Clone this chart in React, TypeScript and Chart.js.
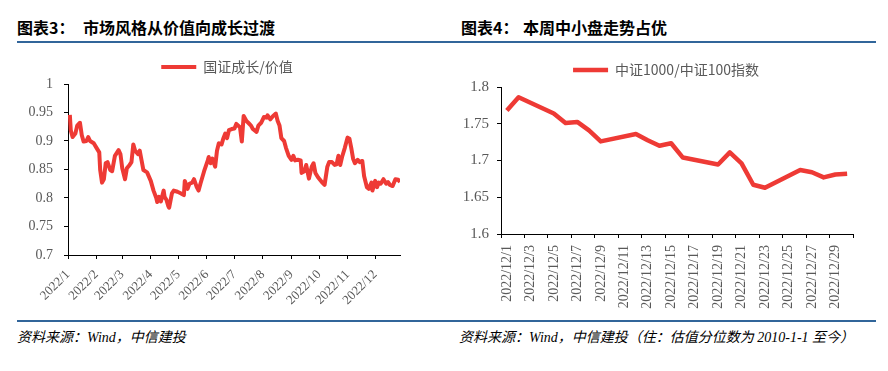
import React, { useEffect, useRef } from 'react';
import { Chart, registerables } from 'chart.js';

Chart.register(...registerables);

// ---------- Left chart: 国证成长/价值 (2022) ----------
const monthStartDays = [0, 31, 59, 90, 120, 151, 181, 212, 243, 273, 304, 334];
const monthLabels = ['2022/1', '2022/2', '2022/3', '2022/4', '2022/5', '2022/6', '2022/7', '2022/8', '2022/9', '2022/10', '2022/11', '2022/12'];
// day offset from 2022-01-01
const growthDays = [
  2, 3, 5, 8, 10, 13, 15, 17, 20, 22, 24, 28, 31, 34, 35, 37, 39, 41, 43, 46, 48, 51, 55, 57, 59, 62, 64, 67, 69, 71,
  73, 76, 78, 80, 82, 86, 90, 93, 96, 97, 99, 101, 104, 105, 107, 109, 110, 113, 115, 119, 123, 126, 127, 130, 132, 135, 137, 140, 142, 144,
  148, 152, 153, 155, 157, 160, 162, 164, 167, 169, 171, 173, 175, 178, 181, 183, 187, 189, 191, 194, 196, 199, 201, 205, 207, 210, 213, 216, 217, 220,
  223, 226, 228, 230, 232, 235, 237, 240, 243, 245, 247, 250, 253, 254, 257, 259, 262, 265, 267, 269, 272, 276, 279, 282, 284, 287, 290, 292, 294, 296,
  298, 301, 304, 306, 308, 310, 312, 315, 317, 320, 322, 325, 327, 330, 331, 334, 336, 338, 340, 343, 346, 348, 350, 353, 356, 359, 361,
];
const growthValues = [
  0.946, 0.919, 0.907, 0.913, 0.927, 0.932, 0.910, 0.899, 0.900, 0.907, 0.900, 0.896, 0.888, 0.880, 0.849, 0.827, 0.833, 0.861, 0.863, 0.849, 0.847, 0.874, 0.884, 0.877, 0.852, 0.833, 0.852, 0.858, 0.863, 0.894,
  0.883, 0.877, 0.883, 0.866, 0.849, 0.845, 0.830, 0.813, 0.800, 0.793, 0.802, 0.794, 0.813, 0.802, 0.797, 0.786, 0.783, 0.808, 0.813, 0.811, 0.808, 0.805, 0.830, 0.816, 0.825, 0.827, 0.833, 0.819, 0.813, 0.825,
  0.847, 0.866, 0.872, 0.861, 0.869, 0.855, 0.883, 0.896, 0.894, 0.905, 0.913, 0.905, 0.919, 0.921, 0.922, 0.930, 0.924, 0.899, 0.944, 0.935, 0.932, 0.927, 0.921, 0.916, 0.927, 0.932, 0.942, 0.941, 0.945, 0.938,
  0.944, 0.948, 0.935, 0.927, 0.905, 0.900, 0.888, 0.874, 0.867, 0.874, 0.866, 0.867, 0.866, 0.844, 0.847, 0.858, 0.834, 0.855, 0.861, 0.844, 0.836, 0.828, 0.823, 0.855, 0.863, 0.863, 0.858, 0.859, 0.874, 0.858,
  0.872, 0.888, 0.906, 0.904, 0.888, 0.869, 0.861, 0.867, 0.863, 0.865, 0.838, 0.819, 0.816, 0.827, 0.813, 0.830, 0.819, 0.827, 0.825, 0.833, 0.825, 0.828, 0.823, 0.821, 0.833, 0.832, 0.828,
];
const growthYTicks = [0.7, 0.75, 0.8, 0.85, 0.9, 0.95, 1];

// ---------- Right chart: 中证1000/中证100指数 (Dec 2022) ----------
const ratioDays = [1, 2, 5, 6, 7, 8, 9, 12, 13, 14, 15, 16, 19, 20, 21, 22, 23, 26, 27, 28, 29, 30];
const ratioValues = [1.768, 1.786, 1.764, 1.751, 1.7525, 1.741, 1.726, 1.736, 1.7275, 1.72, 1.7235, 1.704, 1.6946, 1.711, 1.696, 1.667, 1.663, 1.687, 1.684, 1.677, 1.681, 1.682];
const ratioTickDays = [1, 3, 5, 7, 9, 11, 13, 15, 17, 19, 21, 23, 25, 27, 29, 31];
const ratioTickLabels = ['2022/12/1', '2022/12/3', '2022/12/5', '2022/12/7', '2022/12/9', '2022/12/11', '2022/12/13', '2022/12/15', '2022/12/17', '2022/12/19', '2022/12/21', '2022/12/23', '2022/12/25', '2022/12/27', '2022/12/29', ''];
const ratioYTicks = [1.6, 1.65, 1.7, 1.75, 1.8];

const RED = '#EE3A35';
const GRAY = '#595959';
const BLUE = '#31659A';
const SERIF = "'Liberation Serif', 'Noto Sans CJK SC', serif";
const LEGEND_FONT = "'Noto Sans CJK SC', 'Liberation Serif', sans-serif";

function axisCommon() {
  return {
    border: { display: true, color: '#000', width: 1 },
    grid: { drawOnChartArea: false, drawTicks: true, tickLength: 4, color: '#000' },
  };
}

function legendShift(dx: number) {
  return {
    id: 'legendShift',
    afterLayout(chart: any) {
      const l = chart.legend;
      if (l) {
        l.left += dx;
        l.right += dx;
      }
    },
  };
}

function LeftChart() {
  const ref = useRef<HTMLCanvasElement>(null);
  useEffect(() => {
    const chart = new Chart(ref.current!, {
      type: 'line',
      data: {
        datasets: [
          {
            label: '国证成长/价值',
            data: growthDays.map((d, i) => ({ x: d, y: growthValues[i] })),
            borderColor: RED,
            backgroundColor: RED,
            borderWidth: 4,
            pointRadius: 0,
            tension: 0,
            borderJoinStyle: 'round',
          },
        ],
      },
      plugins: [legendShift(27)],
      options: {
        responsive: false,
        animation: false,
        layout: { padding: { left: 0, right: 44, top: 10, bottom: 0 } },
        plugins: {
          tooltip: { enabled: false },
          legend: {
            position: 'top',
            labels: {
              usePointStyle: true,
              pointStyle: 'line',
              pointStyleWidth: 35,
              padding: 0,
              color: GRAY,
              font: { family: LEGEND_FONT, size: 14 },
            },
          },
        },
        scales: {
          x: {
            type: 'linear',
            min: 0,
            max: 361,
            ...axisCommon(),
            afterBuildTicks: (s: any) => {
              s.ticks = monthStartDays.map((v) => ({ value: v }));
            },
            afterFit: (s: any) => {
              s.height = 65;
            },
            ticks: {
              autoSkip: false,
              minRotation: 45,
              maxRotation: 45,
              padding: 8,
              color: GRAY,
              font: { family: SERIF, size: 13 },
              callback: (v: any) => {
                const i = monthStartDays.indexOf(Number(v));
                return i >= 0 ? monthLabels[i] : '';
              },
            },
          },
          y: {
            type: 'linear',
            min: 0.7,
            max: 1,
            ...axisCommon(),
            afterBuildTicks: (s: any) => {
              s.ticks = growthYTicks.map((v) => ({ value: v }));
            },
            afterFit: (s: any) => {
              s.width = 68;
            },
            ticks: {
              padding: 11,
              color: GRAY,
              font: { family: SERIF, size: 14 },
              callback: (v: any) => String(Number(Number(v).toFixed(2))),
            },
          },
        },
      },
    } as any);
    return () => chart.destroy();
  }, []);
  return <canvas ref={ref} width={444} height={270} style={{ display: 'block', width: 444, height: 270 }} />;
}

function RightChart() {
  const ref = useRef<HTMLCanvasElement>(null);
  useEffect(() => {
    const chart = new Chart(ref.current!, {
      type: 'line',
      data: {
        datasets: [
          {
            label: '中证1000/中证100指数',
            data: ratioDays.map((d, i) => ({ x: d + 0.5, y: ratioValues[i] })),
            borderColor: RED,
            backgroundColor: RED,
            borderWidth: 4.5,
            pointRadius: 0,
            tension: 0,
            borderJoinStyle: 'round',
          },
        ],
      },
      plugins: [legendShift(17.5)],
      options: {
        responsive: false,
        animation: false,
        layout: { padding: { left: 0, right: 35, top: 6, bottom: 0 } },
        plugins: {
          tooltip: { enabled: false },
          legend: {
            position: 'top',
            labels: {
              usePointStyle: true,
              pointStyle: 'line',
              pointStyleWidth: 35,
              padding: 7,
              color: GRAY,
              font: { family: LEGEND_FONT, size: 14 },
            },
          },
        },
        scales: {
          x: {
            type: 'linear',
            min: 1,
            max: 31,
            ...axisCommon(),
            afterBuildTicks: (s: any) => {
              s.ticks = ratioTickDays.map((v) => ({ value: v }));
            },
            afterFit: (s: any) => {
              s.height = 86;
            },
            ticks: {
              autoSkip: false,
              minRotation: 90,
              maxRotation: 90,
              padding: 7,
              labelOffset: 6,
              color: GRAY,
              font: { family: SERIF, size: 14 },
              callback: (v: any) => {
                const i = ratioTickDays.indexOf(Number(v));
                return i >= 0 ? ratioTickLabels[i] : '';
              },
            },
          },
          y: {
            type: 'linear',
            min: 1.6,
            max: 1.8,
            ...axisCommon(),
            afterBuildTicks: (s: any) => {
              s.ticks = ratioYTicks.map((v) => ({ value: v }));
            },
            afterFit: (s: any) => {
              s.width = 57;
            },
            ticks: {
              padding: 8,
              color: GRAY,
              font: { family: SERIF, size: 15 },
              callback: (v: any) => String(Number(Number(v).toFixed(2))),
            },
          },
        },
      },
    } as any);
    return () => chart.destroy();
  }, []);
  return <canvas ref={ref} width={444} height={270} style={{ display: 'block', width: 444, height: 270 }} />;
}

const titleStyle: React.CSSProperties = {
  position: 'absolute',
  top: 19,
  fontFamily: "'Noto Sans CJK SC', sans-serif",
  fontWeight: 700,
  fontSize: 16,
  lineHeight: '16px',
  color: '#000',
  whiteSpace: 'nowrap',
};

const sourceStyle: React.CSSProperties = {
  position: 'absolute',
  top: 330,
  fontFamily: "'Liberation Serif', 'Noto Sans CJK SC', serif",
  fontStyle: 'italic',
  fontSize: 14,
  lineHeight: '16px',
  color: '#000',
  whiteSpace: 'nowrap',
};

function rule(left: number, top: number, width: number): React.CSSProperties {
  return { position: 'absolute', left, top, width, height: 2, background: BLUE };
}

export default function App() {
  return (
    <div style={{ position: 'fixed', left: 0, top: 0, width: 888, height: 371, background: '#fff', overflow: 'hidden' }}>
      <div style={{ ...titleStyle, left: 17 }}>图表3：</div>
      <div style={{ ...titleStyle, left: 83 }}>市场风格从价值向成长过渡</div>
      <div style={{ ...titleStyle, left: 461 }}>图表4：</div>
      <div style={{ ...titleStyle, left: 523 }}>本周中小盘走势占优</div>
      <div style={rule(17, 41, 427)} />
      <div style={rule(444, 41, 432)} />
      <div style={{ position: 'absolute', left: 0, top: 50 }}>
        <LeftChart />
      </div>
      <div style={{ position: 'absolute', left: 444, top: 50 }}>
        <RightChart />
      </div>
      <div style={rule(17, 320, 427)} />
      <div style={rule(444, 320, 432)} />
      <div style={{ ...sourceStyle, left: 17 }}>资料来源：Wind，中信建投</div>
      <div style={{ ...sourceStyle, left: 459 }}>资料来源：Wind，中信建投（住：估值分位数为 2010-1-1 至今）</div>
    </div>
  );
}
